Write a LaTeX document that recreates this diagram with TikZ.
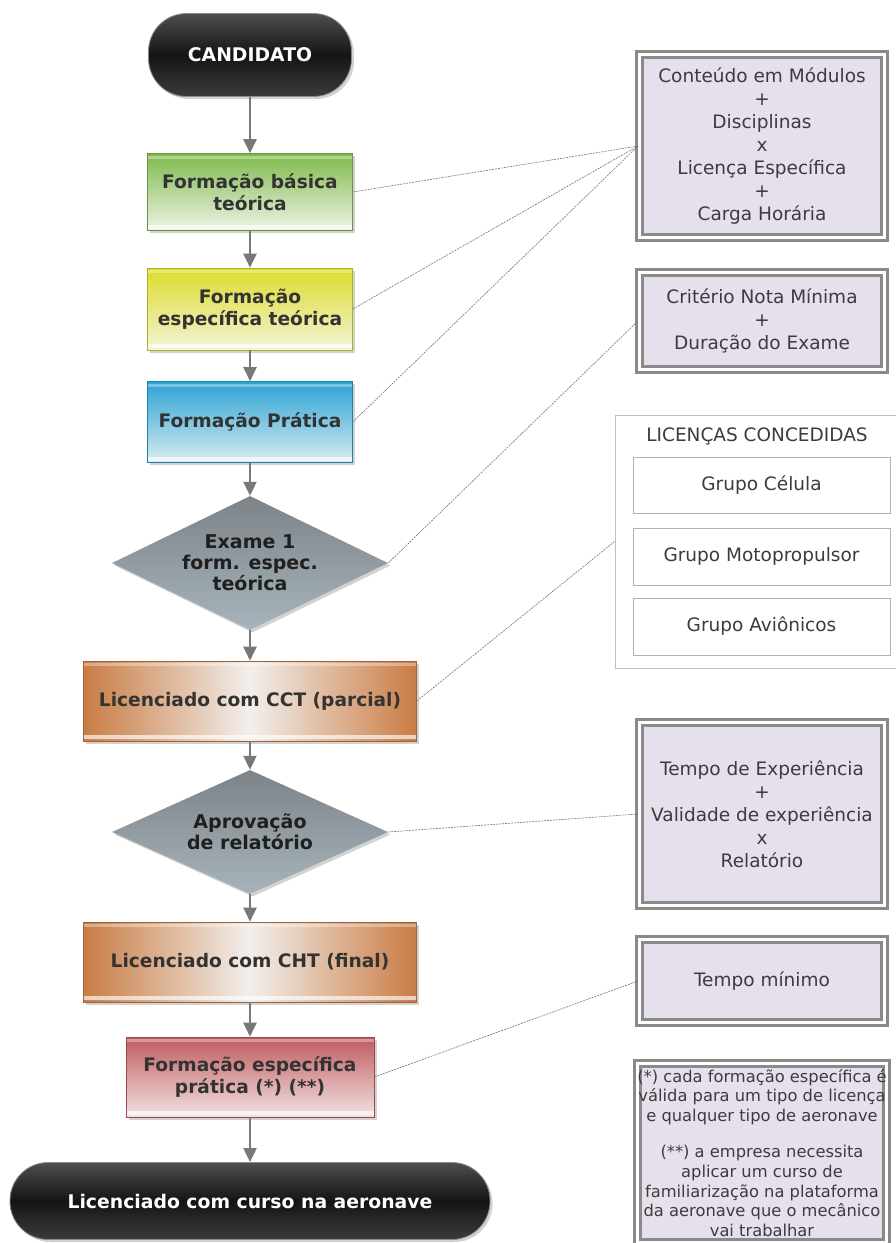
\documentclass[tikz,border=0pt]{standalone}
\usepackage{fontspec}
\setmainfont{DejaVu Sans}
\usetikzlibrary{shapes.geometric,shadows,arrows.meta}
\definecolor{txtdark}{HTML}{333333}
\definecolor{txtbox}{HTML}{3C3C3C}
\definecolor{arrowgray}{HTML}{787878}
\definecolor{lav}{HTML}{E5E0EC}
\definecolor{frame}{HTML}{8A8A8A}
\definecolor{greenT}{HTML}{7FBA4C}
\definecolor{greenB}{HTML}{EEF3E6}
\definecolor{yellowT}{HTML}{DCDC2A}
\definecolor{yellowB}{HTML}{F4F3D8}
\definecolor{blueT}{HTML}{2BA3D3}
\definecolor{blueB}{HTML}{D8EBF2}
\definecolor{redT}{HTML}{BF5A5E}
\definecolor{redB}{HTML}{F3E3E3}
\definecolor{orangeT}{HTML}{C97C44}
\definecolor{orangeM}{HTML}{F2EFEC}
\definecolor{diaT}{HTML}{7D8388}
\definecolor{diaB}{HTML}{A7B4BC}
\pgfdeclareverticalshading{glossy}{100bp}{color(0bp)=(black!45); color(14bp)=(black!70); color(50bp)=(black!92); color(80bp)=(black!65); color(92bp)=(black!35); color(100bp)=(white)}
\tikzset{
  shade/.style={drop shadow={shadow xshift=2.5pt,shadow yshift=-2.5pt,opacity=0.35}},
  bevel/.style={path picture={
    \fill[white,opacity=0.65] ([yshift=6pt]path picture bounding box.south west) rectangle ([yshift=2pt]path picture bounding box.south east);
    \fill[white,opacity=0.35] ([yshift=-2pt]path picture bounding box.north west) rectangle ([yshift=-5pt]path picture bounding box.north east);}},
  flowbox/.style 2 args={rectangle, inner sep=0pt, draw=#1!80!black, line width=0.6pt,
    top color=#1, bottom color=#2, align=center, text=txtdark,
    font=\fontsize{18.6}{22}\selectfont\bfseries, shade, bevel},
  orangebox/.style={rectangle, inner sep=0pt, draw=orangeT!80!black, line width=0.6pt,
    left color=orangeT, right color=orangeT, middle color=orangeM, align=center,
    text=txtdark, font=\fontsize{18.6}{22}\selectfont\bfseries, shade, bevel,
    minimum width=333pt, minimum height=80pt},
  decision/.style={diamond, inner sep=0pt, aspect=2, top color=diaT, bottom color=diaB,
    draw=none, align=center, text=black!88, font=\fontsize{19}{21}\selectfont\bfseries,
    minimum width=276pt, shade},
  pill/.style={rectangle, rounded corners=38pt, inner sep=0pt, shading=glossy,
    draw=black!45, line width=0.8pt, text=white, font=\fontsize{18.8}{22}\selectfont\bfseries, shade},
  refbox/.style={rectangle, inner sep=0pt, draw=frame, line width=3pt, double=white,
    double distance=3pt, fill=lav, align=center, text=txtbox,
    font=\fontsize{18.5}{23}\selectfont, minimum width=245pt},
  licbox/.style={rectangle, draw=black!25, line width=0.8pt, fill=white, inner sep=0pt},
  licitem/.style={rectangle, draw=black!30, line width=0.8pt, fill=white, inner sep=0pt,
    minimum width=257pt, text=txtbox, font=\fontsize{18.5}{22}\selectfont},
  flowarrow/.style={draw=arrowgray, line width=2pt, -{Triangle[width=13pt,length=14pt]}},
  link/.style={draw=black!55, line width=0.6pt, dash pattern=on 2pt off 1pt},
}
\begin{document}
\begin{tikzpicture}[x=1pt,y=-1pt]
\useasboundingbox[fill=white] (0,0) rectangle (895,1243);

% main flow
\node[pill, minimum width=203pt, minimum height=83pt] (cand) at (250,55) {CANDIDATO};
\node[flowbox={greenT}{greenB}, minimum width=205pt, minimum height=77pt] (b1) at (250,192) {Formação básica\\teórica};
\node[flowbox={yellowT}{yellowB}, minimum width=205pt, minimum height=82pt] (b2) at (250,309) {Formação\\específica teórica};
\node[flowbox={blueT}{blueB}, minimum width=205pt, minimum height=81pt] (b3) at (250,422) {Formação Prática};
\node[decision, minimum height=134pt] (d1) at (250,563) {Exame 1\\form. espec.\\teórica};
\node[orangebox] (cct) at (250,701) {Licenciado com CCT (parcial)};
\node[decision, minimum height=124pt] (d2) at (250,832) {Aprovação\\de relatório};
\node[orangebox] (cht) at (250,962) {Licenciado com CHT (final)};
\node[flowbox={redT}{redB}, minimum width=248pt, minimum height=80pt] (fep) at (250,1077) {Formação específica\\prática (*) (**)};
\node[pill, minimum width=480pt, minimum height=77pt] (fin) at (250,1201) {Licenciado com curso na aeronave};

\draw[flowarrow] (cand) -- (b1);
\draw[flowarrow] (b1) -- (b2);
\draw[flowarrow] (b2) -- (b3);
\draw[flowarrow] (b3.south) -- (d1.north);
\draw[flowarrow] (d1.south) -- (cct.north);
\draw[flowarrow] (cct.south) -- (d2.north);
\draw[flowarrow] (d2.south) -- (cht.north);
\draw[flowarrow] (cht.south) -- (fep.north);
\draw[flowarrow] (fep.south) -- (fin.north);

% right side
\node[refbox, minimum height=183pt] (r1) at (762,146) {Conteúdo em Módulos\\+\\Disciplinas\\x\\Licença Específica\\+\\Carga Horária};
\node[refbox, minimum height=97pt] (r2) at (762,321) {Critério Nota Mínima\\+\\Duração do Exame};
\node[licbox, minimum width=285pt, minimum height=253pt] (lic) at (757.5,541.5) {};
\node[text=txtbox, font=\fontsize{18.5}{22}\selectfont] (lict) at (757,436) {LICENÇAS CONCEDIDAS};
\node[licitem, minimum height=56pt] (g1) at (761.5,485) {Grupo Célula};
\node[licitem, minimum height=57pt] (g2) at (761.5,556.5) {Grupo Motopropulsor};
\node[licitem, minimum height=57pt] (g3) at (761.5,626.5) {Grupo Aviônicos};
\node[refbox, minimum height=183pt] (r3) at (762,814) {Tempo de Experiência\\+\\Validade de experiência\\x\\Relatório};
\node[refbox, minimum height=83pt] (r4) at (762,981) {Tempo mínimo};
\node[refbox, minimum height=179pt, font=\fontsize{16.3}{19.8}\selectfont] (r5) at (762,1153) {(*) cada formação específica é\\válida para um tipo de licença\\e qualquer tipo de aeronave\\[16pt](**) a empresa necessita\\aplicar um curso de\\familiarização na plataforma\\da aeronave que o mecânico\\vai trabalhar};

% dashed links
\draw[link] (b1.east) -- (r1.west);
\draw[link] (b2.east) -- (r1.west);
\draw[link] (b3.east) -- (r1.west);
\draw[link] (d1.east) -- (r2.west);
\draw[link] (cct.east) -- (lic.west);
\draw[link] (d2.east) -- (r3.west);
\draw[link] (fep.east) -- (r4.west);
\end{tikzpicture}
\end{document}
